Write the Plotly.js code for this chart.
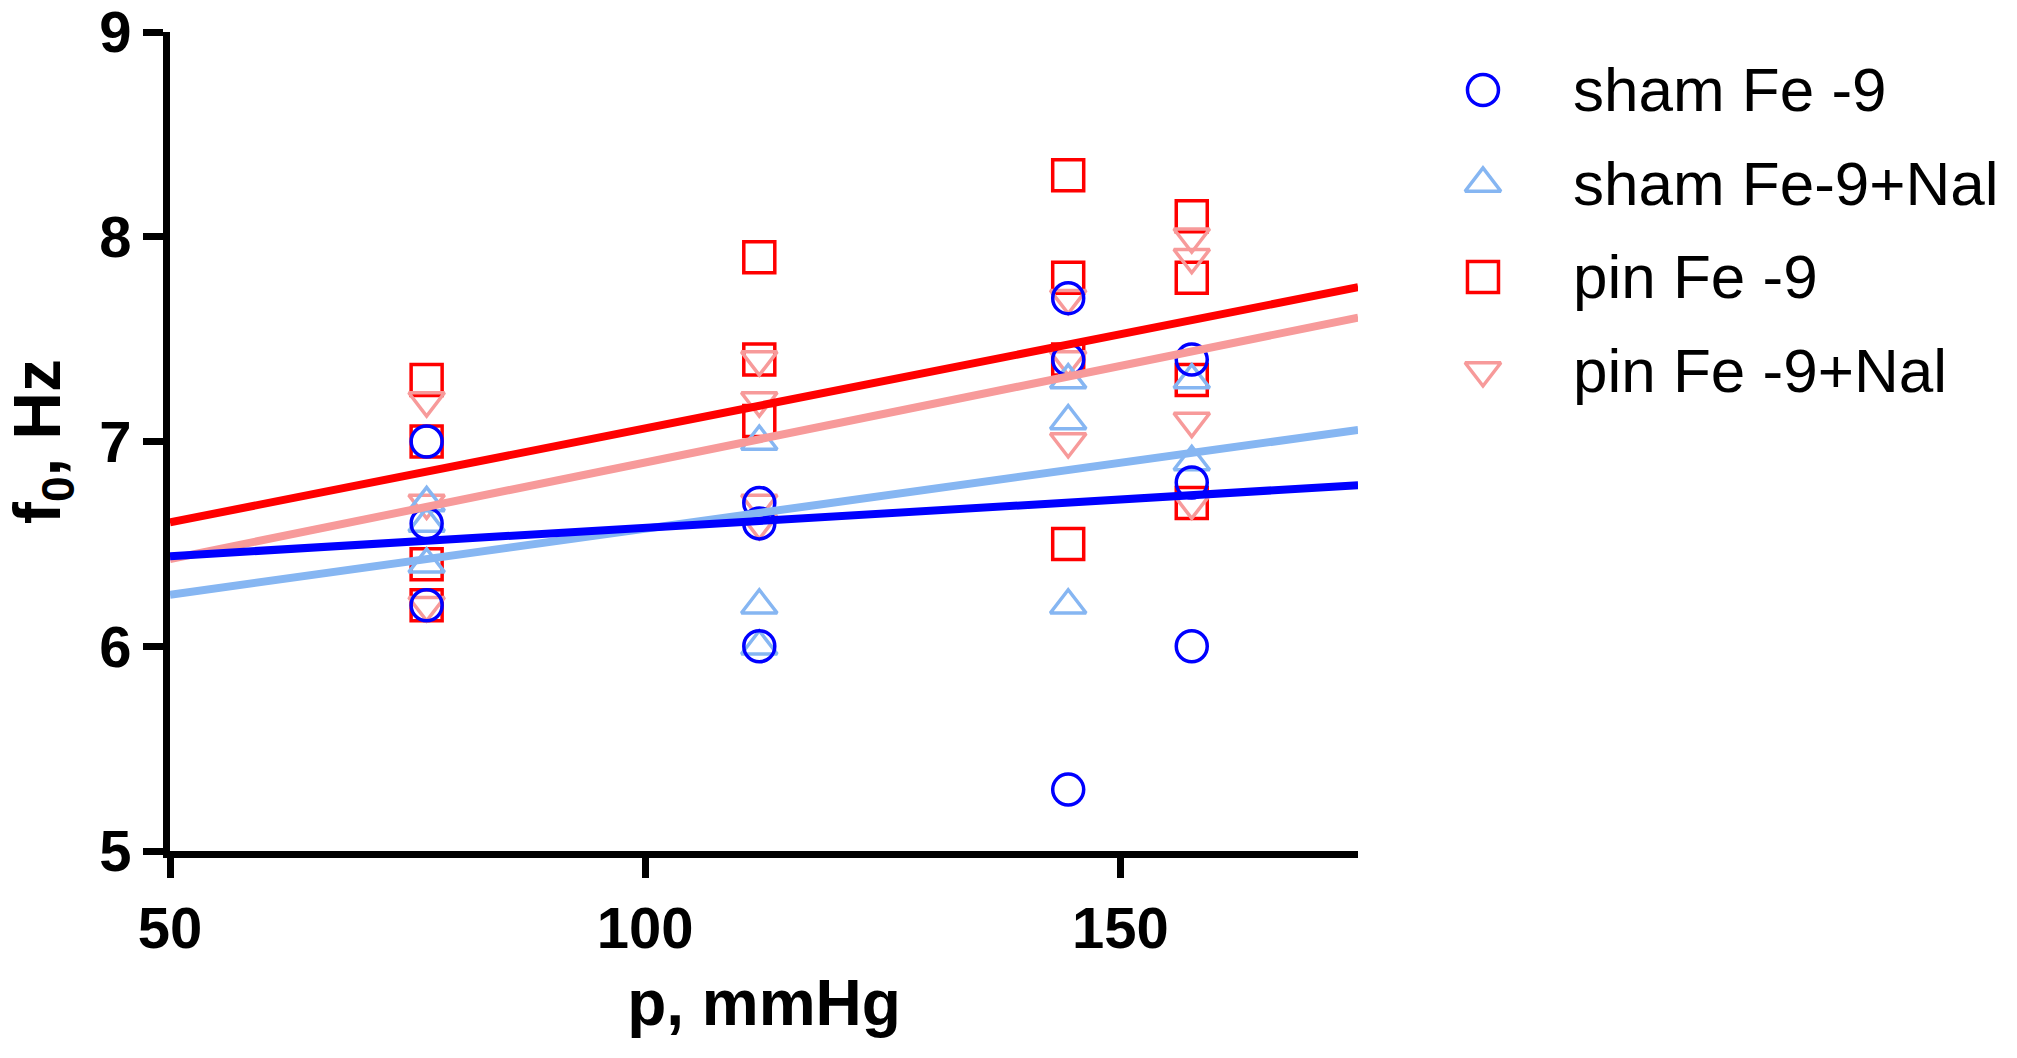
<!DOCTYPE html>
<html>
<head>
<meta charset="utf-8">
<script src="https://cdn.plot.ly/plotly-3.0.1.min.js"></script>
<style>
    html, body { margin: 0; padding: 0; background: #ffffff; }
    #chart { width: 2017px; height: 1058px; }
</style>
</head>
<body>
<div id="chart"></div>
<script>
// pressure groups on the x axis (mmHg)
const pressure = [77, 112, 144.5, 157.5];

// f0 values (Hz) read per pressure group
const shamFe = [[7.0, 6.6, 6.2], [6.7, 6.6, 6.0], [7.7, 7.4, 5.3], [7.4, 6.8, 6.0]];
const shamFeNal = [[6.7, 6.6, 6.4], [7.0, 6.2, 6.0], [7.3, 7.1, 6.2], [7.3, 6.9]];
const pinFe = [[7.3, 7.0, 6.4, 6.2], [7.9, 7.4, 7.1], [8.3, 7.8, 7.4, 6.5], [8.1, 7.8, 7.3, 6.7]];
const pinFeNal = [[7.2, 6.7, 6.2], [7.4, 7.2, 6.7, 6.6], [7.7, 7.4, 7.0], [8.0, 7.9, 7.1, 6.7]];

const seriesNames = ["sham Fe -9", "sham Fe-9+Nal", "pin Fe -9", "pin Fe -9+Nal"];
const fitRange = [50, 175];
const xTicks = [50, 100, 150];

const FONT = "Liberation Sans, Arial, sans-serif";

// flatten the grouped values into x/y pairs
const flatten = (groups) => {
    const xs = [];
    const ys = [];
    groups.forEach((vals, i) => {
        for (let v of vals) {
            xs.push(pressure[i]);
            ys.push(v);
        }
    });
    return { x: xs, y: ys };
}

// ordinary least squares line over fitRange
const linearFit = (pts) => {
    const n = pts.x.length;
    const mx = pts.x.reduce((a, b) => a + b, 0) / n;
    const my = pts.y.reduce((a, b) => a + b, 0) / n;
    let sxy = 0, sxx = 0;
    for (let i = 0; i < n; i++) {
        sxy += (pts.x[i] - mx) * (pts.y[i] - my);
        sxx += (pts.x[i] - mx) ** 2;
    }
    const slope = sxy / sxx;
    return fitRange.map(x => my + slope * (x - mx));
}

const groups = [
    { data: shamFe, name: seriesNames[0], color: "#0000ff", symbol: "circle-open" },
    { data: shamFeNal, name: seriesNames[1], color: "#86b6f2", symbol: "triangle-up-open" },
    { data: pinFe, name: seriesNames[2], color: "#ff0000", symbol: "square-open" },
    { data: pinFeNal, name: seriesNames[3], color: "#f79a9a", symbol: "triangle-down-open" }
];

const MARKER_SIZE = 31;
const traces = [];

// drawing order: squares at the bottom, circles on top
for (let idx of [2, 3, 1, 0]) {
    const g = groups[idx];
    const pts = flatten(g.data);
    traces.push({
        x: pts.x,
        y: pts.y,
        name: g.name,
        type: "scatter",
        mode: "markers",
        showlegend: false,
        cliponaxis: false,
        marker: {
            symbol: g.symbol,
            size: MARKER_SIZE,
            color: g.color,
            line: { color: g.color, width: 3.5 }
        }
    });
}

// regression lines
for (let idx of [1, 3, 0, 2]) {
    const g = groups[idx];
    traces.push({
        x: fitRange,
        y: linearFit(flatten(g.data)),
        type: "scatter",
        mode: "lines",
        showlegend: false,
        hoverinfo: "skip",
        line: { color: g.color, width: 8 }
    });
}

// legend keys, drawn on their own small axes so the symbols keep full size
const legendAnnotations = [];
groups.forEach((g, row) => {
    traces.push({
        x: [0],
        y: [row],
        xaxis: "x2",
        yaxis: "y2",
        type: "scatter",
        mode: "markers",
        showlegend: false,
        cliponaxis: false,
        hoverinfo: "skip",
        marker: {
            symbol: g.symbol,
            size: MARKER_SIZE,
            color: g.color,
            line: { color: g.color, width: 3.5 }
        }
    });
    legendAnnotations.push({
        x: 0,
        y: row,
        xref: "x2",
        yref: "y2",
        text: g.name,
        showarrow: false,
        xanchor: "left",
        yanchor: "middle",
        xshift: 88,
        font: { family: FONT, size: 62, color: "#000000" }
    });
});

const axisCommon = {
    ticks: "outside",
    ticklen: 20,
    tickwidth: 7,
    tickcolor: "#000000",
    showline: true,
    linewidth: 7,
    linecolor: "#000000",
    showgrid: false,
    zeroline: false,
    ticklabeloverflow: "allow",
    tickfont: { family: FONT, size: 58, weight: "bold", color: "#000000" }
};

const hiddenAxis = {
    visible: false,
    showgrid: false,
    zeroline: false,
    fixedrange: true
};

const layout = {
    width: 2017,
    height: 1058,
    paper_bgcolor: "#ffffff",
    plot_bgcolor: "rgba(0,0,0,0)",
    margin: { l: 170, r: 5, t: 32, b: 207 },
    font: { family: FONT, color: "#000000" },
    showlegend: false,
    xaxis: Object.assign({}, axisCommon, {
        domain: [0, 0.645],
        range: fitRange,
        tickvals: xTicks,
        title: {
            text: "p, mmHg",
            font: { family: FONT, size: 64, weight: "bold" },
            standoff: 24
        }
    }),
    yaxis: Object.assign({}, axisCommon, {
        range: [5, 9],
        dtick: 1,
        title: {
            text: "f<sub>0</sub>, Hz",
            font: { family: FONT, size: 66, weight: "bold" },
            standoff: 34
        }
    }),
    xaxis2: Object.assign({}, hiddenAxis, {
        domain: [0.7128, 1],
        range: [0, 1],
        anchor: "y2"
    }),
    yaxis2: Object.assign({}, hiddenAxis, {
        domain: [0.5867, 0.9292],
        range: [groups.length - 1, 0],
        anchor: "x2"
    }),
    annotations: legendAnnotations
};

Plotly.newPlot("chart", traces, layout, { displayModeBar: false, staticPlot: true });
</script>
</body>
</html>
